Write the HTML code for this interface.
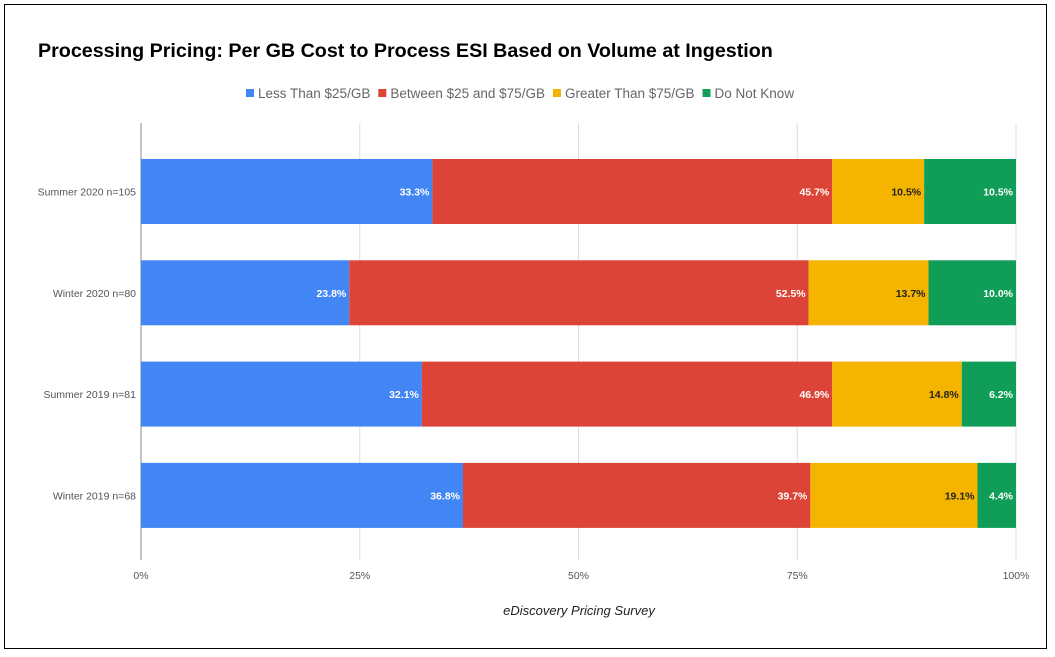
<!DOCTYPE html>
<html><head><meta charset="utf-8"><style>
body{margin:0;background:#fff;font-family:"Liberation Sans",sans-serif}
#wrap{position:absolute;left:4px;top:4px;width:1043px;height:645px;border:1.5px solid #000;box-sizing:border-box}
</style></head><body>
<div id="wrap"></div>
<svg id="chart" width="1055" height="657" style="position:absolute;left:0;top:0">
<text x="38" y="57" font-size="19.7" font-weight="bold" fill="#000">Processing Pricing: Per GB Cost to Process ESI Based on Volume at Ingestion</text>
<g id="legend"></g>
<g id="grid"></g><g id="bars"></g>
<text x="579" y="615" font-size="13" font-style="italic" fill="#222" text-anchor="middle">eDiscovery Pricing Survey</text>
</svg>
<script>
const categories=["Summer 2020 n=105","Winter 2020 n=80","Summer 2019 n=81","Winter 2019 n=68"];
const seriesNames=["Less Than $25/GB","Between $25 and $75/GB","Greater Than $75/GB","Do Not Know"];
const lessThan25=[33.3,23.8,32.1,36.8];
const between25and75=[45.7,52.5,46.9,39.7];
const greaterThan75=[10.5,13.7,14.8,19.1];
const doNotKnow=[10.5,10.0,6.2,4.4];
const ticks=[0,25,50,75,100];
const colors=["#4285F4","#DB4437","#F4B400","#0F9D58"];
const textColors=["#fff","#fff","#222","#fff"];
const series=[lessThan25,between25and75,greaterThan75,doNotKnow];
const NS="http://www.w3.org/2000/svg";
const x0=141,x1=1016,top0=123,bot=560;
const xs=v=>x0+(x1-x0)*v/100;
const ys=i=>159+101.3*i;
const barH=65;
function mk(t,a,p){const e=document.createElementNS(NS,t);for(const k in a)e.setAttribute(k,a[k]);p.appendChild(e);return e;}
const grid=document.getElementById('grid'),bars=document.getElementById('bars'),leg=document.getElementById('legend');
ticks.forEach(t=>{
 const l=mk('line',{x1:xs(t),x2:xs(t),y1:top0,y2:bot,stroke:t===0?'#888':'#ddd','stroke-width':1},grid);
 
 
 const tx=mk('text',{x:xs(t),y:579,'font-size':10.5,fill:'#555','text-anchor':'middle'},grid);
 tx.textContent=t+'%';
 
 
});
categories.forEach((c,i)=>{
 const y=ys(i);
 const lb=mk('text',{x:136,y:y+barH/2+4,'font-size':10.5,fill:'#555','text-anchor':'end'},bars);
 lb.textContent=c;
 
 
 let acc=0;
 series.forEach((s,j)=>{
  const v=s[i];
  const r=mk('rect',{x:xs(acc),y:y,width:xs(acc+v)-xs(acc),height:barH,fill:colors[j]},bars);
  
  
  acc+=v;
  const t=mk('text',{x:xs(acc)-3,y:y+barH/2+4,'font-size':10.5,'font-weight':'bold',fill:textColors[j],'text-anchor':'end'},bars);
  t.textContent=v.toFixed(1)+'%';
  
  
 });
});
let lx=246;
seriesNames.forEach((n,j)=>{
 const g=mk('g',{},leg);
 
 
 mk('rect',{x:lx,y:89,width:8,height:8,fill:colors[j]},g);
 const t=mk('text',{x:lx+12,y:98,'font-size':13.5,fill:'#666'},g);
 t.textContent=n;
 lx+=12+t.getComputedTextLength()+8;
});
</script>
</body></html>
